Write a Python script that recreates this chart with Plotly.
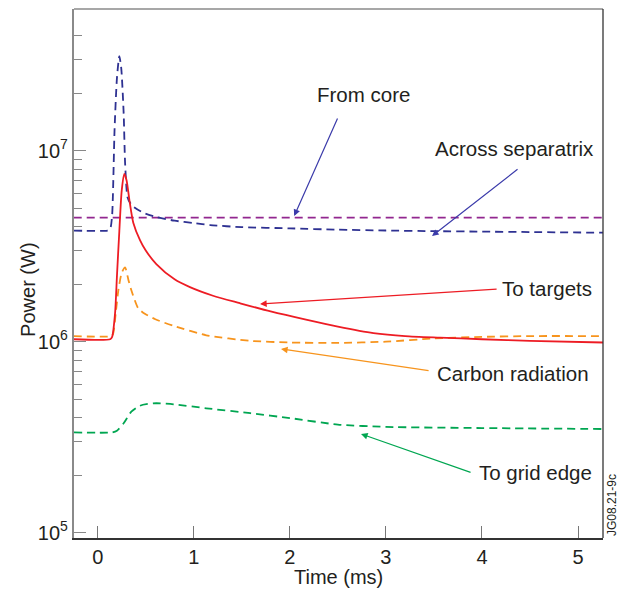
import math
import plotly.graph_objects as go

# ---------------- data ----------------
t_core = [-0.25, 0.10, 0.13, 0.15, 0.175, 0.20, 0.225, 0.245, 0.27, 0.285, 0.31, 0.34, 0.37, 0.475,
          0.61, 0.8, 1.0, 1.17, 1.5, 2.0, 2.5, 3.0, 3.5, 4.0, 4.5, 5.26]
p_core = [3.82e6, 3.82e6, 3.9e6, 4.6e6, 1.28e7, 2.4e7, 3.13e7, 2.7e7, 1.57e7, 8.6e6, 5.7e6, 5.3e6, 5.1e6, 4.73e6,
          4.5e6, 4.3e6, 4.18e6, 4.08e6, 3.98e6, 3.92e6, 3.86e6, 3.82e6, 3.79e6, 3.77e6, 3.75e6, 3.72e6]

t_sep = [-0.25, 5.26]
p_sep = [4.46e6, 4.46e6]

t_tgt = [-0.25, 0.13, 0.15, 0.18, 0.20, 0.225, 0.25, 0.277, 0.30, 0.33, 0.37, 0.44, 0.50, 0.61, 0.8,
         0.96, 1.2, 1.48, 1.8, 2.18, 2.5, 2.87, 3.2, 3.56, 4.0, 4.5, 5.26]
p_tgt = [1.03e6, 1.03e6, 1.06e6, 1.4e6, 2.2e6, 3.8e6, 6.2e6, 7.55e6, 7.0e6, 5.5e6, 4.2e6, 3.4e6, 3.0e6, 2.55e6, 2.12e6,
         1.93e6, 1.74e6, 1.59e6, 1.44e6, 1.30e6, 1.2e6, 1.11e6, 1.07e6, 1.05e6, 1.03e6, 1.01e6, 0.99e6]

t_carb = [-0.25, 0.14, 0.16, 0.19, 0.215, 0.25, 0.285, 0.32, 0.35, 0.42, 0.49, 0.6, 0.79, 1.13, 1.59,
          2.0, 2.5, 3.0, 3.5, 4.0, 4.5, 5.26]
p_carb = [1.07e6, 1.07e6, 1.1e6, 1.45e6, 1.86e6, 2.3e6, 2.45e6, 2.1e6, 1.86e6, 1.5e6, 1.4e6, 1.31e6, 1.21e6, 1.08e6, 1.01e6,
          0.99e6, 0.985e6, 1.0e6, 1.04e6, 1.06e6, 1.07e6, 1.07e6]

t_grid = [-0.25, 0.15, 0.2, 0.27, 0.35, 0.44, 0.52, 0.61, 0.79, 1.13, 1.59, 2.0, 2.5, 3.0, 4.0, 5.26]
p_grid = [3.35e5, 3.35e5, 3.42e5, 3.74e5, 4.3e5, 4.62e5, 4.72e5, 4.76e5, 4.7e5, 4.48e5, 4.22e5, 3.98e5, 3.68e5,
          3.58e5, 3.53e5, 3.49e5]

x_ticks = [0, 1, 2, 3, 4, 5]
y_ticks = [1e5, 1e6, 1e7]
y_ticktext = ["10<sup>5</sup>", "10<sup>6</sup>", "10<sup>7</sup>"]

labels = ["From core", "Across separatrix", "To targets", "Carbon radiation", "To grid edge"]
# ---------------------------------------------------------------

BLUE = "#2E3192"
PURPLE = "#92278F"
RED = "#ED1C24"
ORANGE = "#F7941D"
GREEN = "#00A651"
ARROW_BLUE = "#3B3BAA"
TXT = "#231F20"
FONT = "Liberation Sans, Arial, Helvetica, sans-serif"

fig = go.Figure()
DASH = "8px,5px"
fig.add_trace(go.Scatter(x=t_sep, y=p_sep, mode="lines", line=dict(color=PURPLE, width=1.6, dash=DASH)))
fig.add_trace(go.Scatter(x=t_core, y=p_core, mode="lines", line=dict(color=BLUE, width=1.8, dash=DASH, shape="spline", smoothing=0.6)))
fig.add_trace(go.Scatter(x=t_grid, y=p_grid, mode="lines", line=dict(color=GREEN, width=1.8, dash=DASH, shape="spline", smoothing=0.6)))
fig.add_trace(go.Scatter(x=t_carb, y=p_carb, mode="lines", line=dict(color=ORANGE, width=1.8, dash=DASH, shape="spline", smoothing=0.6)))
fig.add_trace(go.Scatter(x=t_tgt, y=p_tgt, mode="lines", line=dict(color=RED, width=1.8, shape="spline", smoothing=0.7)))

# arrows: (head t, head P, tail t, tail P, color)
arrows = [
    (2.045, 10**6.658, 2.503, 10**7.176, ARROW_BLUE),
    (3.48, 10**6.553, 4.386, 10**6.909, ARROW_BLUE),
    (1.69, 10**6.197, 4.168, 10**6.276, RED),
    (1.908, 10**5.962, 3.46, 10**5.847, ORANGE),
    (2.741, 10**5.517, 3.897, 10**5.313, GREEN),
]
label_pos = [
    (2.762, 10**7.296),
    (4.334, 10**7.009),
    (4.678, 10**6.276),
    (4.324, 10**5.836),
    (4.553, 10**5.313),
]
ann = []
for (hx, hy, tx, ty, c) in arrows:
    ann.append(dict(x=hx, y=math.log10(hy), ax=tx, ay=math.log10(ty), xref="x", yref="y",
                    axref="x", ayref="y", text="", showarrow=True, arrowhead=2, arrowsize=1.1,
                    arrowwidth=1.2, arrowcolor=c))
for lab, (lx, ly) in zip(labels, label_pos):
    ann.append(dict(x=lx, y=math.log10(ly), xref="x", yref="y", text=lab, showarrow=False,
                    xanchor="center", yanchor="middle", font=dict(size=20.5, color=TXT, family=FONT)))

ann.append(dict(x=-0.087, y=0.469, xref="paper", yref="paper", text="Power (W)", textangle=-90,
                showarrow=False, xanchor="center", yanchor="middle", font=dict(size=20, color=TXT, family=FONT)))
ann.append(dict(x=0.5, y=-0.074, xref="paper", yref="paper", text="Time (ms)", showarrow=False,
                xanchor="center", yanchor="middle", font=dict(size=20, color=TXT, family=FONT)))
ann.append(dict(x=1.017, y=0.0, xref="paper", yref="paper", text="JG08.21-9c", textangle=-90,
                showarrow=False, xanchor="center", yanchor="bottom", font=dict(size=12, color=TXT, family=FONT)))

minor_vals = [m * d for d in (1e4, 1e5, 1e6) for m in range(2, 10)] + [2e7, 3e7, 4e7]

fig.update_layout(
    width=624, height=589,
    margin=dict(l=74, r=21, t=9, b=51),
    paper_bgcolor="white", plot_bgcolor="white",
    showlegend=False,
    font=dict(family=FONT, size=20, color=TXT),
    annotations=ann,
    xaxis=dict(range=[-0.247, 5.26], tickvals=x_ticks, ticks="inside", ticklen=12, tickwidth=1.3,
               tickcolor="#777", showgrid=False, zeroline=False, showline=True, linecolor="#333",
               linewidth=1.5, tickfont=dict(size=20, color=TXT)),
    yaxis=dict(type="log", range=[4.972, 7.742], tickvals=y_ticks, ticktext=y_ticktext,
               ticks="inside", ticklen=12, tickwidth=1.3, tickcolor="#888", showgrid=False,
               zeroline=False, showline=True, linecolor="#8a8a8a", linewidth=2.2,
               tickfont=dict(size=20, color=TXT),
               minor=dict(tickvals=minor_vals, ticks="inside", ticklen=8, tickwidth=1.3,
                          tickcolor="#888", showgrid=False)),
    shapes=[
        dict(type="line", xref="paper", yref="paper", x0=0, x1=1, y0=1, y1=1,
             line=dict(color="#8a8a8a", width=1.6)),
        dict(type="line", xref="paper", yref="paper", x0=1, x1=1, y0=0, y1=1,
             line=dict(color="#333", width=1.3)),
    ],
)

fig.write_html("out.html")
